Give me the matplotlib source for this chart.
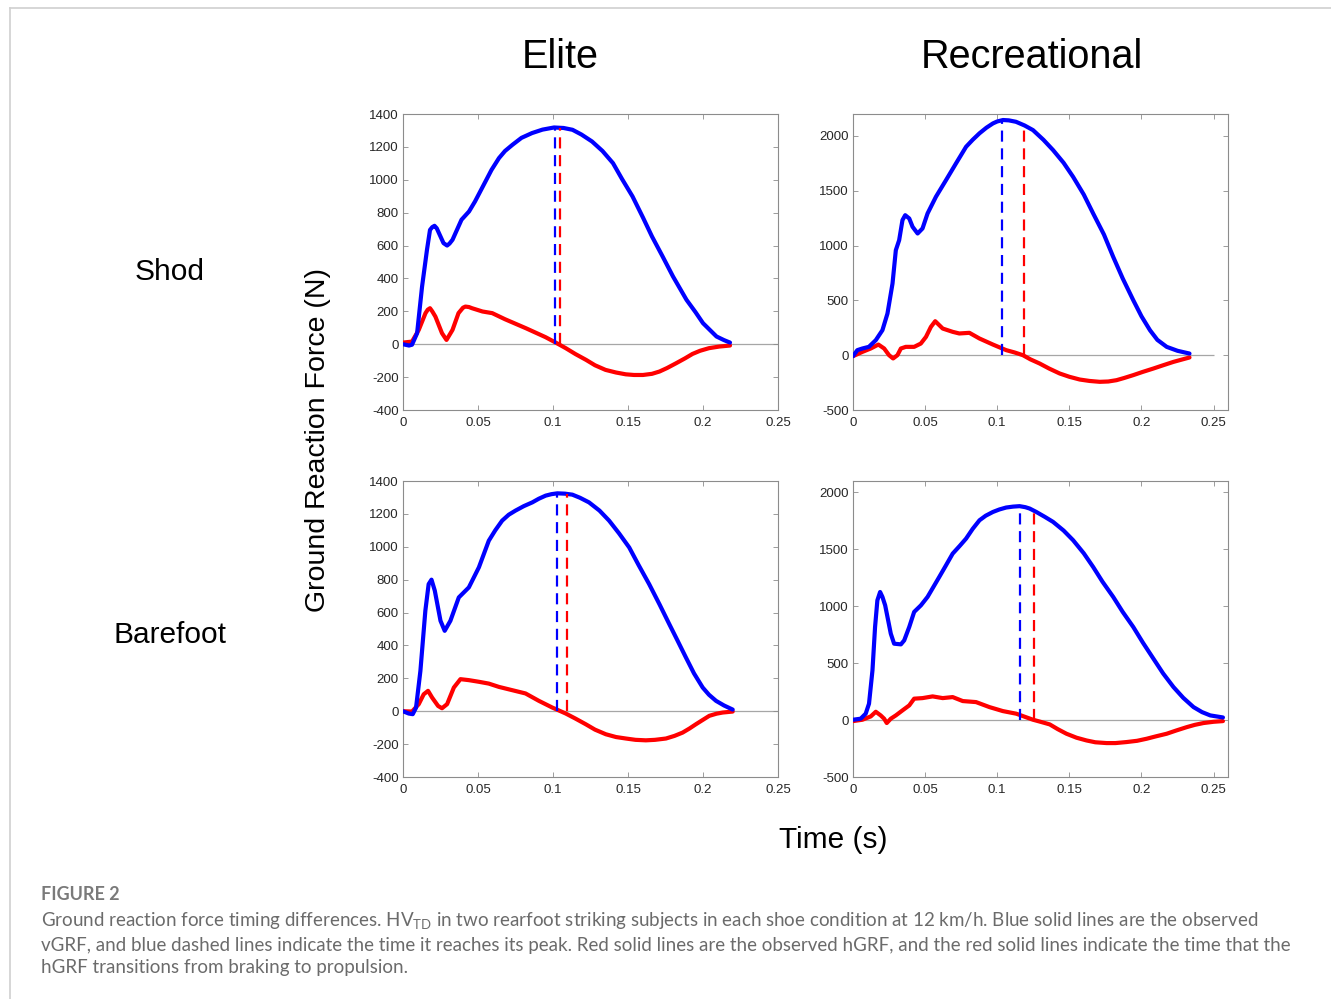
"""Ground reaction force timing — elite vs recreational, shod vs barefoot.

Four MATLAB-style panels (vGRF blue, hGRF red) with dashed markers for the
vGRF peak time and the hGRF braking→propulsion transition.

Output: out.png
"""

import matplotlib
matplotlib.use('Agg')
import matplotlib.pyplot as plt
from matplotlib.ticker import FormatStrFormatter
from matplotlib.lines import Line2D

# ---- data (time in s, force in N) ----
# Elite, shod
es_vt = [0, 0.004, 0.006, 0.0094, 0.0127, 0.016, 0.018, 0.0195, 0.021, 0.0225, 0.024, 0.027,
         0.0294, 0.031, 0.033, 0.039, 0.044, 0.048, 0.055, 0.059, 0.064, 0.068, 0.073, 0.079,
         0.086, 0.093, 0.1007, 0.107, 0.113, 0.119, 0.126, 0.133, 0.14, 0.146, 0.153, 0.16,
         0.166, 0.173, 0.18, 0.189, 0.195, 0.2, 0.209, 0.214, 0.218]
es_v = [0, -8, -3, 67, 350, 575, 695, 712, 720, 705, 675, 615, 600, 612, 635, 757, 807, 868,
        990, 1060, 1132, 1175, 1213, 1255, 1284, 1305, 1318, 1315, 1304, 1275, 1233, 1175,
        1101, 1005, 899, 770, 655, 535, 412, 270, 195, 128, 47, 25, 10]
es_ht = [0, 0.006, 0.0105, 0.015, 0.0165, 0.018, 0.0195, 0.0216, 0.026, 0.029, 0.033, 0.037,
         0.04, 0.0416, 0.044, 0.046, 0.053, 0.0595, 0.068, 0.082, 0.095, 0.1018, 0.1085, 0.115,
         0.122, 0.128, 0.135, 0.142, 0.1485, 0.154, 0.16, 0.166, 0.171, 0.176, 0.182, 0.188,
         0.193, 0.198, 0.204, 0.211, 0.218]
es_h = [10, 16, 87, 189, 210, 219, 200, 168, 67, 26, 87, 189, 222, 229, 226, 219, 199, 189,
        152, 97, 43, 10, -24, -60, -95, -128, -156, -172, -183, -187, -187, -180, -166, -145,
        -116, -86, -59, -40, -24, -14, -8]

# Recreational, shod
rs_vt = [0, 0.003, 0.0065, 0.011, 0.0158, 0.0204, 0.0239, 0.0274, 0.0297, 0.032, 0.0343,
         0.0362, 0.039, 0.0413, 0.0448, 0.0482, 0.0517, 0.0575, 0.0645, 0.0714, 0.0784, 0.083,
         0.0877, 0.0925, 0.097, 0.1, 0.104, 0.108, 0.113, 0.119, 0.1248, 0.132, 0.1387, 0.146,
         0.1526, 0.16, 0.1665, 0.174, 0.1804, 0.187, 0.1943, 0.2, 0.2059, 0.211, 0.2175, 0.225,
         0.2333]
rs_v = [-9, 46, 61, 76, 137, 228, 380, 654, 958, 1049, 1232, 1277, 1247, 1171, 1110, 1156,
        1293, 1445, 1597, 1749, 1901, 1965, 2024, 2075, 2114, 2132, 2145, 2142, 2129, 2095,
        2053, 1965, 1871, 1755, 1627, 1465, 1293, 1100, 897, 700, 502, 355, 228, 140, 76, 40, 15]
rs_ht = [0, 0.0065, 0.0123, 0.0176, 0.0216, 0.025, 0.0278, 0.0308, 0.0332, 0.0366, 0.0424,
         0.047, 0.0506, 0.054, 0.057, 0.0622, 0.0691, 0.0737, 0.0807, 0.0877, 0.097, 0.1062,
         0.112, 0.1178, 0.123, 0.1294, 0.136, 0.1433, 0.15, 0.1572, 0.164, 0.1711, 0.177,
         0.1827, 0.188, 0.1943, 0.201, 0.2082, 0.215, 0.2222, 0.228, 0.2333]
rs_h = [-9, 30, 61, 97, 61, 0, -30, 0, 61, 76, 76, 106, 167, 258, 310, 243, 213, 198, 204,
        152, 97, 46, 25, 0, -38, -76, -122, -167, -197, -222, -235, -243, -240, -228, -208,
        -182, -152, -122, -92, -61, -40, -21]

# Elite, barefoot
eb_vt = [0, 0.0038, 0.0065, 0.0087, 0.0116, 0.0149, 0.0171, 0.019, 0.0212, 0.025, 0.0278,
         0.0316, 0.0372, 0.0439, 0.0506, 0.0572, 0.0615, 0.0661, 0.0705, 0.075, 0.0805, 0.0862,
         0.0905, 0.0951, 0.099, 0.1029, 0.108, 0.1129, 0.118, 0.124, 0.131, 0.1374, 0.144,
         0.1508, 0.157, 0.1641, 0.171, 0.1775, 0.183, 0.1886, 0.194, 0.1998, 0.204, 0.2087,
         0.214, 0.2198]
eb_v = [0, -14, -18, 22, 245, 611, 773, 800, 733, 550, 489, 550, 692, 753, 875, 1037, 1100,
        1159, 1195, 1220, 1247, 1270, 1292, 1311, 1320, 1325, 1323, 1317, 1298, 1270, 1220,
        1159, 1082, 996, 890, 773, 650, 530, 430, 327, 230, 144, 100, 63, 35, 10]
eb_ht = [0, 0.006, 0.0105, 0.0138, 0.0167, 0.0194, 0.0234, 0.026, 0.0294, 0.0339, 0.0383,
         0.0439, 0.0506, 0.0572, 0.0639, 0.0728, 0.0817, 0.0906, 0.0996, 0.1085, 0.115, 0.1218,
         0.128, 0.1352, 0.142, 0.1486, 0.155, 0.1619, 0.168, 0.1753, 0.181, 0.1864, 0.191,
         0.1953, 0.2, 0.2042, 0.209, 0.2131, 0.2198]
eb_h = [0, -2, 43, 103, 124, 83, 32, 18, 43, 144, 195, 189, 179, 168, 148, 128, 108, 63, 22,
        -14, -45, -79, -112, -140, -157, -166, -174, -177, -174, -166, -150, -130, -105, -79,
        -52, -28, -15, -8, -2]

# Recreational, barefoot
rb_vt = [0, 0.0053, 0.0088, 0.0111, 0.0135, 0.0153, 0.0169, 0.0188, 0.0204, 0.0223, 0.0239,
         0.0262, 0.0285, 0.0332, 0.0355, 0.039, 0.0424, 0.0471, 0.0517, 0.0598, 0.0645, 0.0691,
         0.074, 0.0784, 0.083, 0.0877, 0.092, 0.097, 0.1015, 0.1062, 0.111, 0.1155, 0.1195,
         0.1225, 0.1271, 0.133, 0.1387, 0.146, 0.1526, 0.16, 0.1665, 0.173, 0.1804, 0.187,
         0.1943, 0.201, 0.2083, 0.215, 0.2222, 0.229, 0.2361, 0.242, 0.2477, 0.2565]
rb_v = [3, 12, 56, 144, 437, 818, 1052, 1125, 1082, 1008, 906, 759, 671, 665, 700, 818, 950,
        1008, 1082, 1257, 1360, 1462, 1530, 1594, 1680, 1755, 1795, 1828, 1850, 1867, 1875,
        1879, 1870, 1858, 1828, 1785, 1741, 1665, 1580, 1465, 1345, 1215, 1082, 950, 818, 680,
        539, 410, 290, 195, 114, 70, 41, 23]
rb_ht = [0, 0.0065, 0.0123, 0.0158, 0.0192, 0.0216, 0.0234, 0.0262, 0.0297, 0.0343, 0.039,
         0.0424, 0.0482, 0.0552, 0.0622, 0.0691, 0.0761, 0.0853, 0.0946, 0.1039, 0.1132, 0.1248,
         0.13, 0.1364, 0.142, 0.148, 0.155, 0.1619, 0.168, 0.1758, 0.182, 0.1897, 0.197, 0.2036,
         0.21, 0.2175, 0.224, 0.2314, 0.237, 0.243, 0.25, 0.2565]
rb_h = [-9, 3, 32, 73, 41, 12, -26, 12, 41, 85, 129, 188, 193, 208, 193, 202, 167, 158, 114,
        79, 56, 3, -15, -38, -80, -120, -155, -179, -195, -202, -202, -193, -182, -164, -143,
        -120, -92, -62, -42, -26, -15, -9]

# dashed markers: vGRF peak (time, height) and hGRF zero crossing (time, height)
peak_t = [0.1011, 0.1034, 0.1027, 0.1157]
peak_v = [1318, 2145, 1325, 1879]
cross_t = [0.1047, 0.1183, 0.1091, 0.1255]
cross_v = [1316, 2085, 1318, 1850]

cols = ['Elite', 'Recreational']
rows = ['Shod', 'Barefoot']
ylims = [(-400, 1400), (-500, 2200), (-400, 1400), (-500, 2100)]
xmaxes = [0.25, 0.26, 0.25, 0.26]
yticks = [range(-400, 1401, 200), range(-500, 2001, 500),
          range(-400, 1401, 200), range(-500, 2001, 500)]
panels = [(es_vt, es_v, es_ht, es_h), (rs_vt, rs_v, rs_ht, rs_h),
          (eb_vt, eb_v, eb_ht, eb_h), (rb_vt, rb_v, rb_ht, rb_h)]

caption = ('Ground reaction force timing differences. HV$_{\\mathrm{TD}}$ in two rearfoot '
           'striking subjects in each shoe condition at 12 km/h. Blue solid lines are the observed\n'
           'vGRF, and blue dashed lines indicate the time it reaches its peak. Red solid lines '
           'are the observed hGRF, and the red solid lines indicate the time that the\n'
           'hGRF transitions from braking to propulsion.')

plt.rcParams['font.family'] = ['Liberation Sans', 'DejaVu Sans']
plt.rcParams['axes.unicode_minus'] = False
plt.rcParams['mathtext.fontset'] = 'custom'
plt.rcParams['mathtext.rm'] = 'Lato'

W, H = 1331, 999
fig = plt.figure(figsize=(W / 100, H / 100), dpi=100)

# axes boxes in pixels: left, top, right, bottom
boxes = [(403, 114, 778, 410), (853, 114, 1228, 410),
         (403, 481, 778, 777), (853, 481, 1228, 777)]

for i, (x0, y0, x1, y1) in enumerate(boxes):
    ax = fig.add_axes([x0 / W, 1 - y1 / H, (x1 - x0) / W, (y1 - y0) / H])
    vt, v, ht, h = panels[i]
    ax.hlines(0, 0, 0.25, color='#a6a6a6', lw=0.9, zorder=1)
    ax.plot(ht, h, color='#ff0000', lw=3.0, solid_capstyle='round',
            solid_joinstyle='round', zorder=3)
    ax.plot(vt, v, color='#0000ff', lw=3.0, solid_capstyle='round',
            solid_joinstyle='round', zorder=3)
    ax.vlines(peak_t[i], 0, peak_v[i], color='#0000ff', lw=1.6,
              linestyles=(0, (5, 3)), zorder=4)
    ax.vlines(cross_t[i], 0, cross_v[i], color='#ff0000', lw=1.6,
              linestyles=(0, (5, 3)), zorder=4)
    ax.set_xlim(0, xmaxes[i])
    ax.set_ylim(*ylims[i])
    ax.set_xticks([0, 0.05, 0.1, 0.15, 0.2, 0.25])
    ax.set_yticks(list(yticks[i]))
    ax.xaxis.set_major_formatter(FormatStrFormatter('%g'))
    ax.tick_params(direction='in', length=3.5, width=0.6, labelsize=9.5,
                   colors='#8c8c8c', labelcolor='#262626', top=True, right=True, pad=3)
    ax.tick_params(axis='x', pad=5)
    for s in ax.spines.values():
        s.set_color('#8c8c8c')
        s.set_linewidth(0.8)

# column and row headings
fig.text(560 / W, 1 - 57 / H, cols[0], fontsize=28.5, ha='center', va='center')
fig.text(1032 / W, 1 - 57 / H, cols[1], fontsize=28.5, ha='center', va='center')
fig.text(170 / W, 1 - 272 / H, rows[0], fontsize=21.5, ha='center', va='center')
fig.text(170 / W, 1 - 635 / H, rows[1], fontsize=21.5, ha='center', va='center')
fig.text(318 / W, 1 - 440 / H, 'Ground Reaction Force (N)', fontsize=20.5,
         rotation=90, ha='center', va='center')
fig.text(833 / W, 1 - 840 / H, 'Time (s)', fontsize=21.5, ha='center', va='center')

# caption block
fig.text(41 / W, 1 - 895 / H, 'FIGURE 2', fontsize=13, fontweight='bold',
         color='#7a7a7a', family=['Lato', 'DejaVu Sans'], ha='left', va='center')
fig.text(41 / W, 1 - 943 / H, caption, fontsize=13.5, color='#6b6b6b',
         family=['Lato', 'DejaVu Sans'], ha='left', va='center', linespacing=1.36)

# card border: top and left rules
fig.add_artist(Line2D([10 / W, 1], [1 - 8 / H, 1 - 8 / H], color='#d0d0d0', lw=1.2))
fig.add_artist(Line2D([10 / W, 10 / W], [0, 1 - 8 / H], color='#d0d0d0', lw=1.2))

fig.savefig('out.png', dpi=100)
